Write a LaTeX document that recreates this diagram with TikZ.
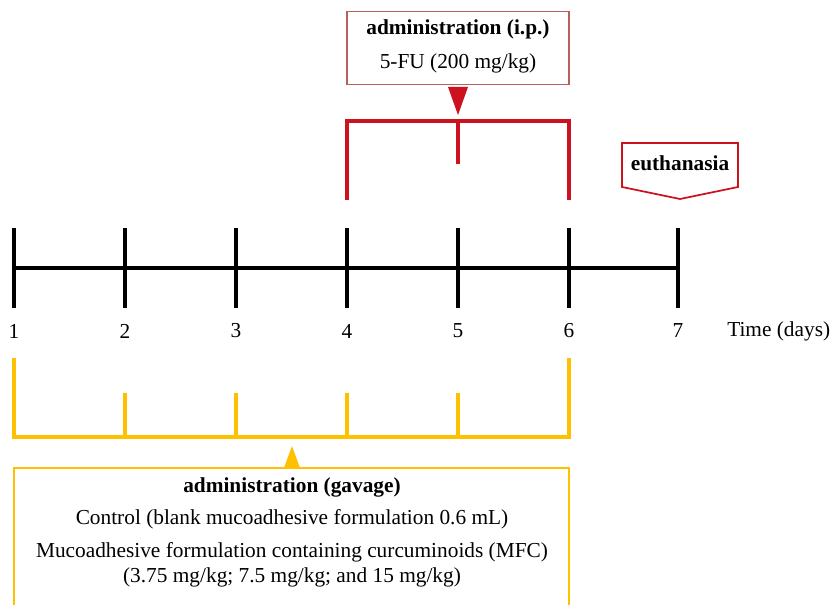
\documentclass[tikz,border=0pt]{standalone}
\usepackage{fontspec}
\setmainfont{Liberation Serif}
\usetikzlibrary{positioning}
\definecolor{ipred}{RGB}{204,18,30}
\definecolor{boxred}{RGB}{185,95,95}
\definecolor{gavyellow}{RGB}{255,192,0}
\tikzset{
  axisline/.style={line width=2.7pt,black},
  daytick/.style={line width=2.5pt,black},
  daylabel/.style={font=\fontsize{16}{18}\selectfont},
  ipbracket/.style={line width=2.4pt,ipred},
  gavbracket/.style={line width=2.4pt,gavyellow},
  txt/.style={font=\fontsize{16}{18}\selectfont,inner sep=0pt},
  boldtxt/.style={font=\fontsize{16}{18}\selectfont\bfseries,inner sep=0pt}
}
\begin{document}
\begin{tikzpicture}[x=0.75pt,y=-0.75pt,line join=miter]
  \useasboundingbox (0,0) rectangle (831,605);
  \clip (0,0) rectangle (831,605);
  % time axis
  \foreach \d/\x in {1/14,2/125,3/236,4/347,5/458,6/569,7/678} {
    \coordinate (t\d) at (\x,268);
    \draw[daytick] (\x,228) -- (\x,308);
    \node[daylabel] (d\d) at (\x,331) {\d};
  }
  \draw[axisline] (t1) -- (t7);
  \node[daylabel,anchor=west,inner sep=0pt] (time) at (727,331) {Time (days)};
  % i.p. administration
  \node[draw=boxred,line width=0.9pt,fill=white,minimum width=166.5pt,minimum height=55pt,inner sep=0pt] (ipbox) at (458,48) {};
  \node[boldtxt] (iptitle) at (458,29) {administration (i.p.)};
  \node[txt] (ipdose) at (458,63) {5-FU (200 mg/kg)};
  \fill[ipred] (448,87) -- (468,87) -- (458,115) -- cycle;
  \draw[ipbracket] (347,200) -- (347,121) -- (569,121) -- (569,200);
  \draw[ipbracket] (458,121) -- (458,164);
  % euthanasia
  \draw[ipred,line width=1.3pt,fill=white] (622,143) -- (738,143) -- (738,187) -- (680,199) -- (622,187) -- cycle;
  \node[boldtxt] (euth) at (680,163) {euthanasia};
  % gavage administration
  \draw[gavbracket] (14,358) -- (14,437) -- (569,437) -- (569,358);
  \foreach \x in {125,236,347,458}
    \draw[gavbracket] (\x,393) -- (\x,437);
  \fill[gavyellow] (284,468) -- (300,468) -- (292,446) -- cycle;
  \draw[gavyellow,line width=1pt] (14,640) -- (14,468) -- (569,468) -- (569,640);
  \node[boldtxt] (gavtitle) at (292,487) {administration (gavage)};
  \node[txt] (control) at (292,519) {Control (blank mucoadhesive formulation 0.6 mL)};
  \node[txt] (mfc) at (292,552) {Mucoadhesive formulation containing curcuminoids (MFC)};
  \node[txt] (mfcdose) at (292,577) {(3.75 mg/kg; 7.5 mg/kg; and 15 mg/kg)};
\end{tikzpicture}
\end{document}
